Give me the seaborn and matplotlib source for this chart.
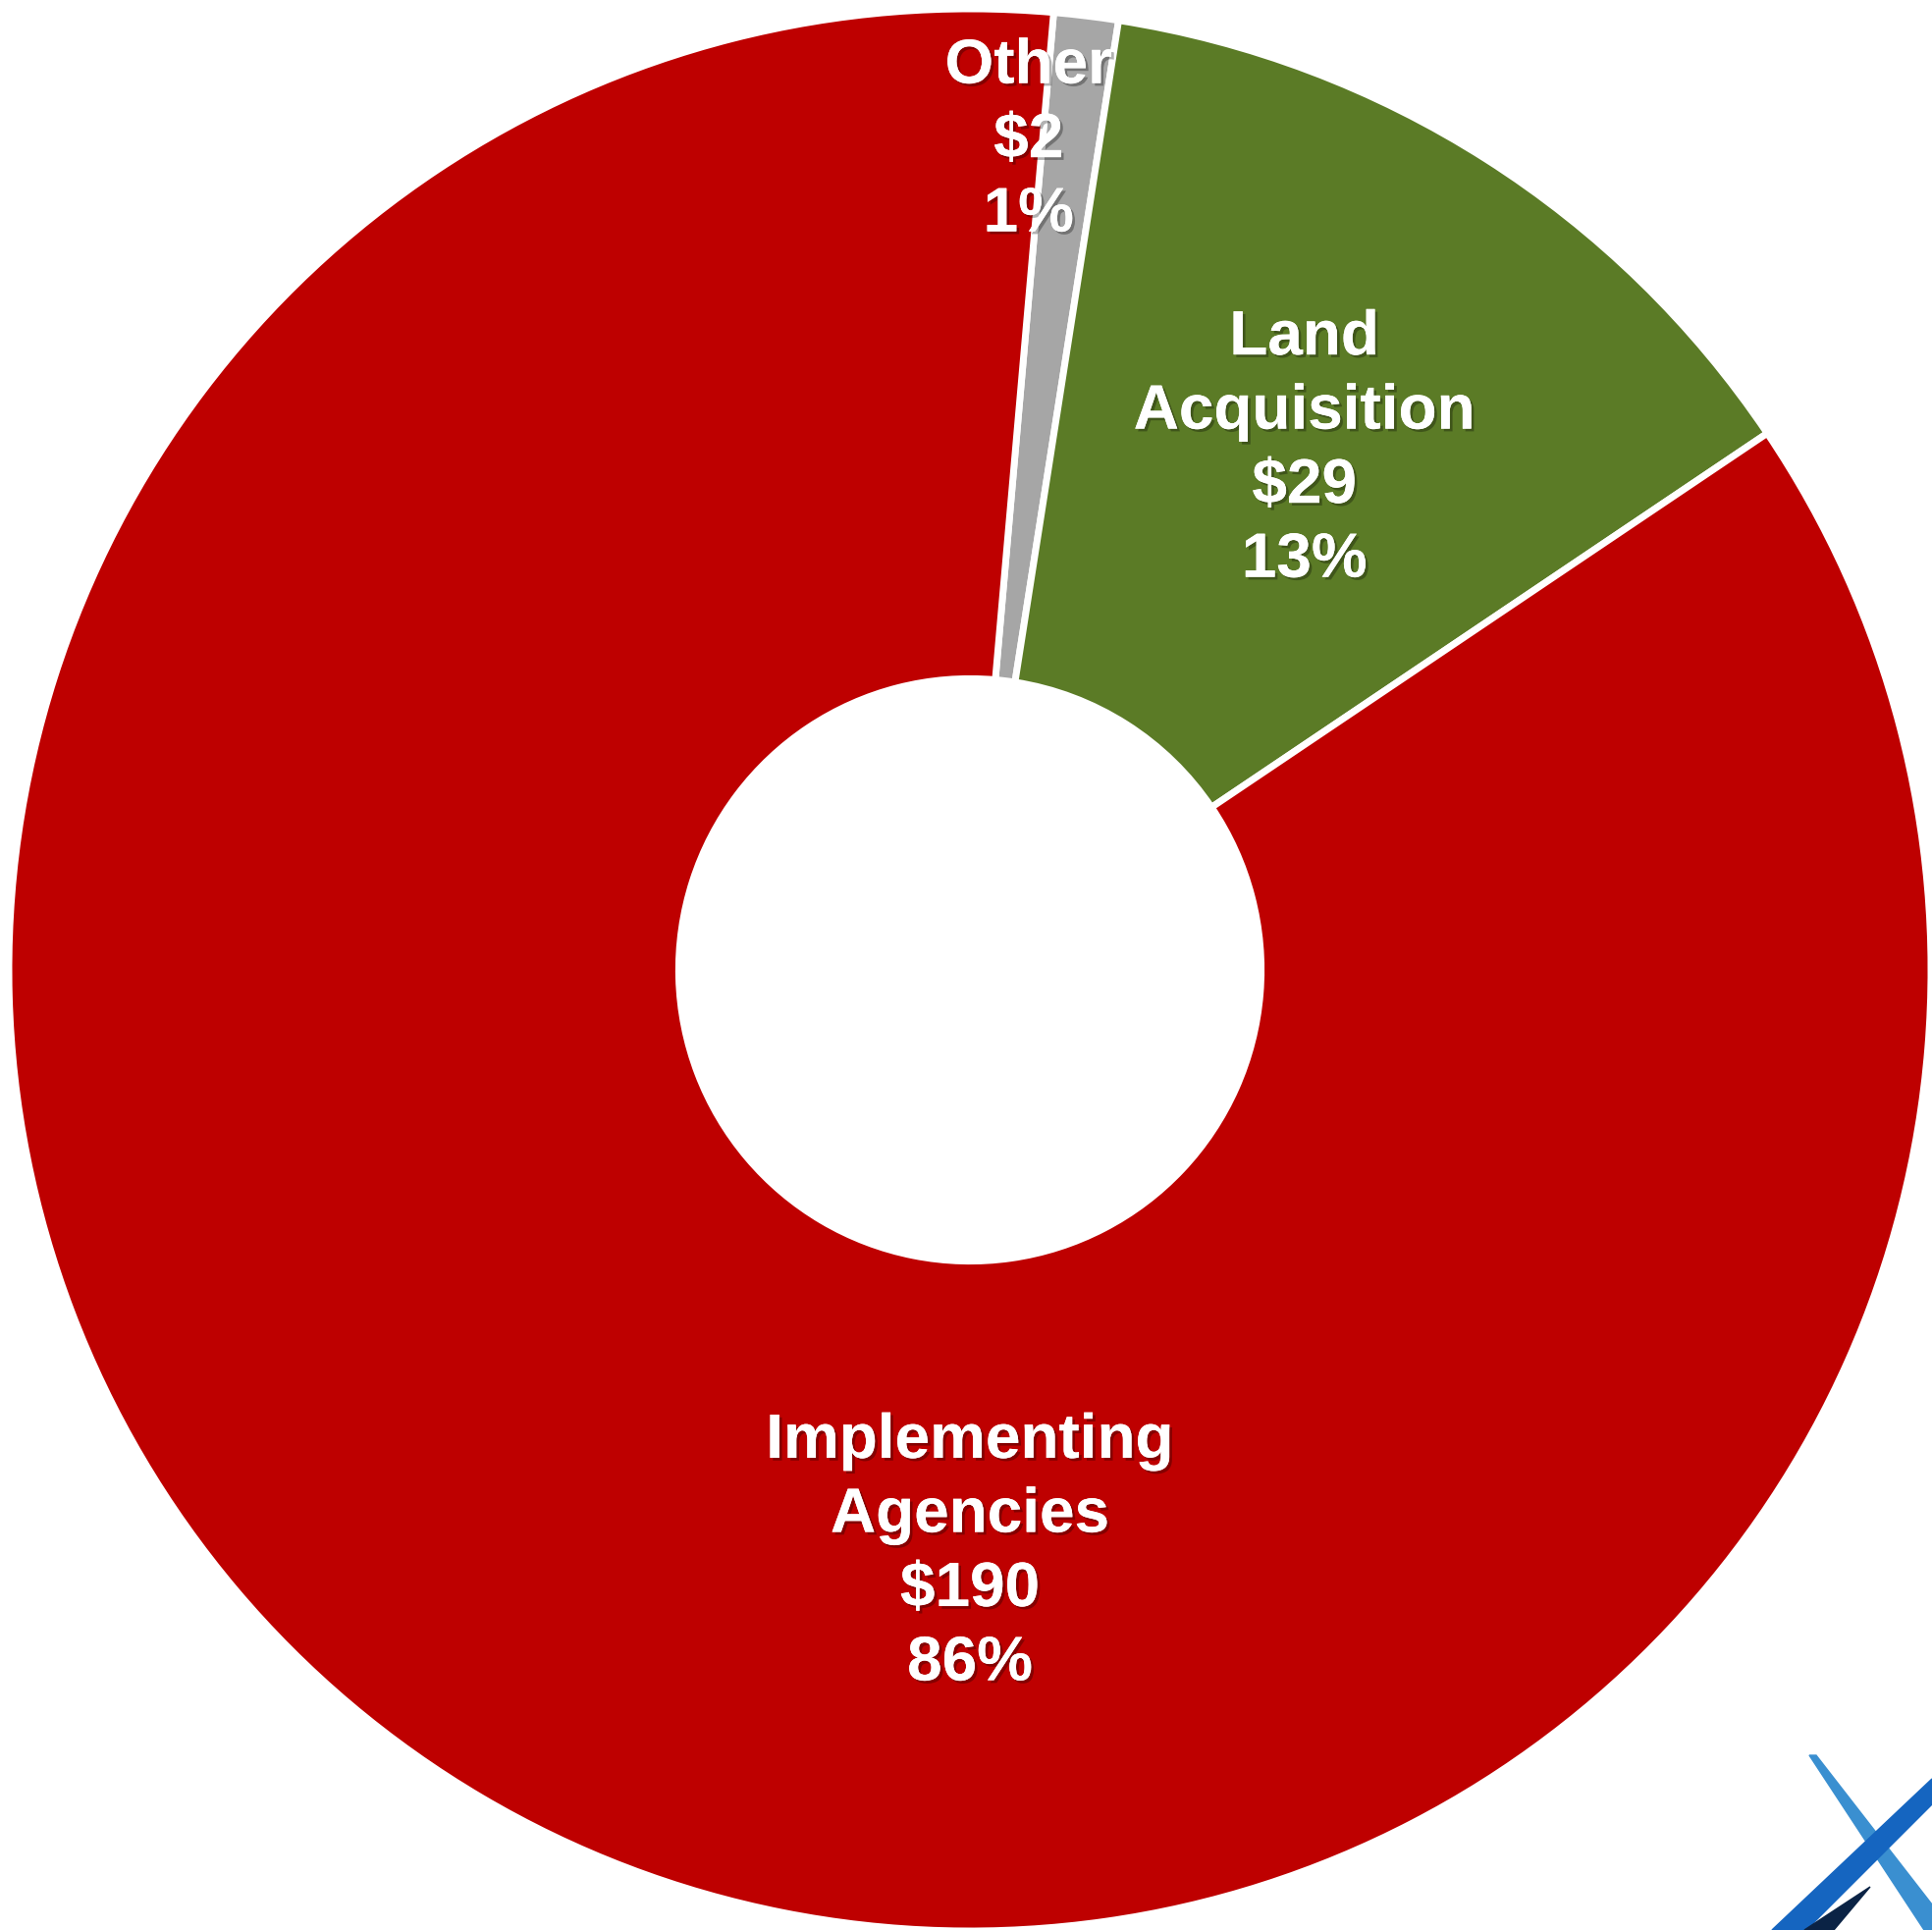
import matplotlib
matplotlib.use("Agg")
import matplotlib.pyplot as plt
import matplotlib.patheffects as pe
from matplotlib.patches import Polygon
import seaborn as sns

sns.set_theme(style="white")
plt.rcParams['font.family'] = ['Liberation Sans', 'DejaVu Sans']

# Data
categories = ["Other", "Land\nAcquisition", "Implementing\nAgencies"]
amounts = [2.4, 29, 190]
amount_labels = ["$2", "$29", "$190"]
percent_labels = ["1%", "13%", "86%"]
colors = ["#A6A6A6", "#5B7B26", "#BE0000"]

# label positions (data units, pie radius = 1)
label_pos = [(0.061, 0.863), (0.348, 0.542), (0.0, -0.606)]

W, H = 1968, 1966
fig = plt.figure(figsize=(W / 100, H / 100), dpi=100)
ax = fig.add_axes([0, 0, 1, 1])
cx, cy, R = 988, 988, 979

ax.pie(amounts, colors=colors, startangle=85, counterclock=False, radius=1.0,
       wedgeprops=dict(width=0.697, edgecolor='white', linewidth=5))
ax.set_xlim(-cx / R, (W - cx) / R)
ax.set_ylim(-(H - cy) / R, cy / R)
ax.set_aspect('equal')
ax.axis('off')

for cat, amt, pct, (x, y) in zip(categories, amount_labels, percent_labels, label_pos):
    ax.text(x, y, f"{cat}\n{amt}\n{pct}", ha='center', va='center', color='white',
            fontsize=46, fontweight='bold', linespacing=1.33, zorder=5,
            path_effects=[pe.withSimplePatchShadow(offset=(2, -2), shadow_rgbFace='black', alpha=0.3),
                          pe.Normal()])

# partial logo in the lower right corner (decorative)
def px(x, y):
    return (x / W, 1 - y / H)

light = Polygon([px(1843, 1788), px(1850, 1788), px(1968, 1940), px(1968, 1966), px(1960, 1966)],
                closed=True, transform=fig.transFigure, color="#3A8FD0", zorder=10)
thick = Polygon([px(1805, 1966), px(1968, 1812), px(1968, 1838), px(1840, 1966)],
                closed=True, transform=fig.transFigure, color="#1565C0", zorder=11)
navy = Polygon([px(1838, 1966), px(1905, 1922), px(1868, 1966)],
               closed=True, transform=fig.transFigure, color="#0B2345", zorder=12)
for p in (light, thick, navy):
    fig.add_artist(p)

fig.savefig("out.png", dpi=100, facecolor='white')
